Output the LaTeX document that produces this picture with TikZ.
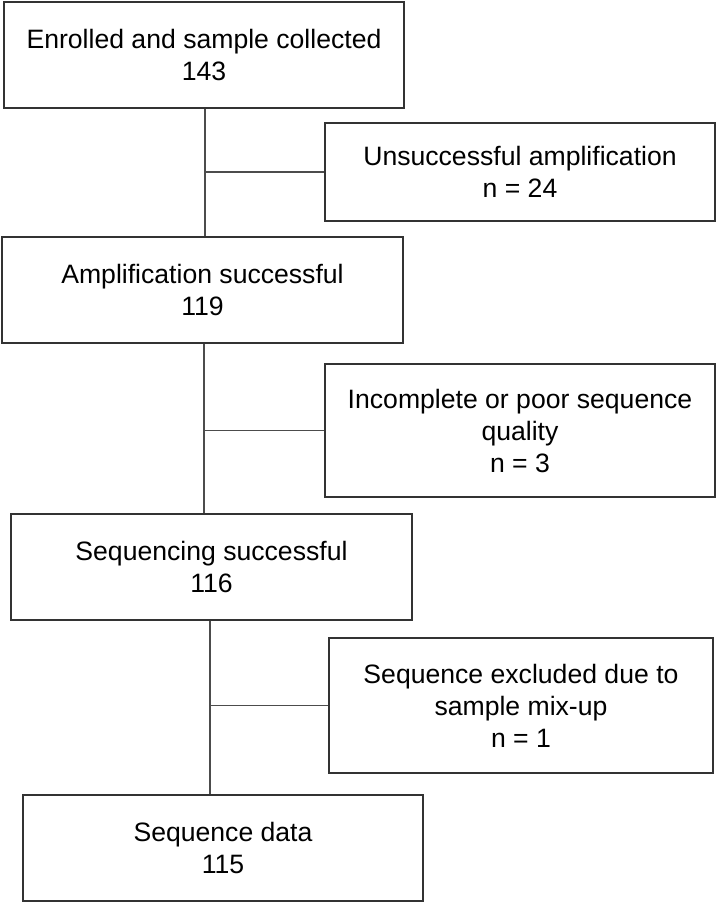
\documentclass[tikz,border=0pt]{standalone}
\usepackage{fontspec}
\setmainfont{Liberation Sans}
\begin{document}
\begin{tikzpicture}[x=1pt,y=1pt,
  box/.style={draw=black!80, line width=1.3pt, inner sep=0pt, align=center,
    font=\fontsize{26.6}{32}\selectfont},
  link/.style={draw=black!70, line width=1.2pt}]
\useasboundingbox (0,0) rectangle (717,-904);
\node[box, minimum width=400, minimum height=106] (b1) at (204,-55) {Enrolled and sample collected\\143};
\node[box, minimum width=390, minimum height=98] (s1) at (520,-172) {Unsuccessful amplification\\n = 24};
\node[box, minimum width=401, minimum height=106] (b2) at (202.5,-290) {Amplification successful\\119};
\node[box, minimum width=390, minimum height=133] (s2) at (520,-430.5) {Incomplete or poor sequence\\quality\\n = 3};
\node[box, minimum width=401, minimum height=106] (b3) at (211.5,-567) {Sequencing successful\\116};
\node[box, minimum width=384, minimum height=135] (s3) at (521,-705.5) {Sequence excluded due to\\sample mix-up\\n = 1};
\node[box, minimum width=400, minimum height=106] (b4) at (223,-848) {Sequence data\\115};
\coordinate (j1) at (205,-172);
\coordinate (j2) at (204,-431);
\coordinate (j3) at (210,-705.5);
\draw[link] (b1.south -| j1) -- (b2.north -| j1);
\draw[link] (j1 |- s1.west) -- (s1.west);
\draw[link] (b2.south -| j2) -- (b3.north -| j2);
\draw[link] (j2 |- s2.west) -- (s2.west);
\draw[link] (b3.south -| j3) -- (b4.north -| j3);
\draw[link] (j3 |- s3.west) -- (s3.west);
\end{tikzpicture}
\end{document}
